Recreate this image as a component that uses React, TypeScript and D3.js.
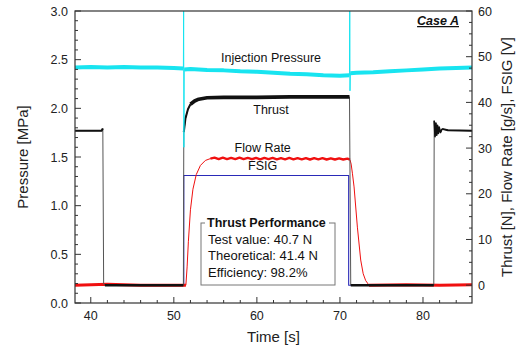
import React from "react";
import * as d3 from "d3";

type Pt = [number, number];

// time [s] vs injection pressure [MPa] (left axis)
const pressurePre: Pt[] = [[38.1, 2.42], [40, 2.425], [42, 2.42], [44, 2.425], [46, 2.42], [48, 2.42], [50, 2.415], [51.15, 2.41]];
const pressureSpike1: Pt[] = [[51.18, 3.05], [51.21, 1.6]];
const pressureBurn: Pt[] = [[51.25, 2.4], [52, 2.405], [54, 2.395], [56, 2.39], [58, 2.38], [60, 2.375], [62, 2.365], [64, 2.355], [66, 2.35], [68, 2.34], [70, 2.335], [71.15, 2.34]];
const pressureSpike2: Pt[] = [[71.18, 3.05], [71.21, 2.18]];
const pressurePost: Pt[] = [[71.25, 2.36], [72, 2.365], [74, 2.37], [76, 2.38], [78, 2.39], [80, 2.4], [82, 2.41], [84, 2.415], [85.9, 2.42]];

// thrust [N] (right axis)
const thrustPre: Pt[] = [[38.1, 33.8], [40, 33.8], [41.3, 33.8], [41.45, 34.3]];
const thrustDrop: Pt[] = [[41.55, 0.3]];
const thrustOff1: Pt[] = [[41.7, 0], [44, 0], [48, 0], [51.15, 0]];
const thrustRise: Pt[] = [[51.2, 33.5], [51.4, 36.5], [51.7, 38.5], [52.0, 39.6]];
const thrustBurn: Pt[] = [[52.0, 39.6], [52.5, 40.3], [53, 40.7], [54, 41.0], [56, 41.1], [60, 41.1], [64, 41.2], [68, 41.2], [71.15, 41.2]];
const thrustOff2: Pt[] = [[71.3, 0], [74, 0], [78, 0], [81.3, 0]];
const thrustStart2: Pt[] = [[81.35, 36], [81.45, 32.5], [81.55, 35.5], [81.65, 32.8], [81.75, 35], [81.85, 33.2], [81.95, 34.6], [82.1, 33.4], [82.3, 34.2]];
const thrustPost: Pt[] = [[82.3, 34.2], [83, 33.9], [85.9, 33.8]];

// flow rate [g/s] (right axis)
const flowPre: Pt[] = [[38.1, 0], [42, 0.2], [46, 0], [51.45, 0]];
const flowRise: Pt[] = [[51.6, 4], [51.75, 9.5], [52.0, 16.5], [52.3, 21], [52.7, 24.2], [53.2, 26.2], [53.8, 27.3]];
const flowBurn: Pt[] = [
  [54.4, 27.7], [54.9, 27.9], [55.4, 27.6], [55.9, 27.9], [56.4, 27.6], [56.9, 27.85], [57.4, 27.6], [57.9, 27.9],
  [58.4, 27.6], [58.9, 27.85], [59.4, 27.6], [59.9, 27.85], [60.4, 27.55], [60.9, 27.85], [61.4, 27.6], [61.9, 27.85],
  [62.4, 27.55], [62.9, 27.8], [63.4, 27.55], [63.9, 27.85], [64.4, 27.55], [64.9, 27.8], [65.4, 27.55], [65.9, 27.8],
  [66.4, 27.5], [66.9, 27.8], [67.4, 27.55], [67.9, 27.8], [68.4, 27.5], [68.9, 27.75], [69.4, 27.5], [69.9, 27.75],
  [70.4, 27.5], [70.9, 27.7], [71.2, 27.5],
];
const flowFall: Pt[] = [[71.35, 26.5], [71.5, 24.5], [71.7, 21.5], [72.1, 12.7], [72.5, 5.5], [72.8, 2.5], [73.1, 1]];
const flowPost: Pt[] = [[73.5, 0], [78, 0.1], [82, 0], [85.9, 0.1]];

// FSIG [V] (right axis)
const fsig: Pt[] = [[38.1, 0], [51.2, 0], [51.2, 24], [71.05, 24], [71.05, 0], [85.9, 0]];

const xTicks = [40, 50, 60, 70, 80];
const leftTicks = [0, 0.5, 1.0, 1.5, 2.0, 2.5, 3.0];
const rightTicks = [0, 10, 20, 30, 40, 50, 60];
const perfLines = ["Test value: 40.7 N", "Theoretical: 41.4 N", "Efficiency: 98.2%"];

const W = 521;
const H = 351;
const FONT = "'Liberation Sans', Arial, sans-serif";

export default function App() {
  const ref = React.useRef<SVGSVGElement>(null);

  React.useEffect(() => {
    const svg = d3.select(ref.current);
    svg.selectAll("*").remove();

    const left = 75, right = 472, top = 11, bottom = 303;
    const x = d3.scaleLinear().domain([38.1, 85.9]).range([left, right]);
    const yL = d3.scaleLinear().domain([0, 3]).range([bottom, top]);
    const yR = d3.scaleLinear().domain([-3.9, 60]).range([bottom, top]);

    svg.append("defs").append("clipPath").attr("id", "plotclip")
      .append("rect").attr("x", left).attr("y", top).attr("width", right - left).attr("height", bottom - top);

    const g = svg.append("g").attr("clip-path", "url(#plotclip)");

    const lineL = d3.line<Pt>().x((d) => x(d[0])).y((d) => yL(d[1]));
    const lineR = d3.line<Pt>().x((d) => x(d[0])).y((d) => yR(d[1]));

    function draw(line: d3.Line<Pt>, data: Pt[], color: string, w: number) {
      g.append("path").datum(data).attr("fill", "none").attr("stroke", color)
        .attr("stroke-width", w).attr("stroke-linejoin", "round").attr("d", line);
    }

    // FSIG
    draw(lineR, fsig, "#2a2ab8", 1.1);

    // flow rate
    const red = "#f01010";
    draw(lineR, [...flowPre, ...flowRise, ...flowBurn, ...flowFall, ...flowPost], red, 1);
    draw(lineR, flowPre, red, 3);
    draw(lineR, flowBurn, red, 2.4);
    draw(lineR, flowPost, red, 3);

    // thrust
    const blk = "#111";
    draw(lineR, [...thrustPre, ...thrustDrop, ...thrustOff1, ...thrustRise, ...thrustBurn.slice(1), ...thrustOff2, ...thrustStart2, ...thrustPost.slice(1)], "#555", 1);
    draw(lineR, thrustPre, blk, 2);
    draw(lineR, thrustOff1, blk, 2.4);
    draw(lineR, thrustRise, blk, 2);
    draw(lineR, thrustBurn, blk, 3.6);
    draw(lineR, thrustOff2, blk, 2.4);
    draw(lineR, thrustStart2, blk, 1.6);
    draw(lineR, thrustPost, blk, 2);

    // injection pressure
    const cyan = "#18e4f0";
    draw(lineL, [...pressurePre, ...pressureSpike1, ...pressureBurn, ...pressureSpike2, ...pressurePost], cyan, 1);
    draw(lineL, pressurePre, cyan, 4);
    draw(lineL, pressureBurn, cyan, 4);
    draw(lineL, pressurePost, cyan, 4);

    // frame
    const axisColor = "#333";
    svg.append("rect").attr("x", left).attr("y", top).attr("width", right - left).attr("height", bottom - top)
      .attr("fill", "none").attr("stroke", axisColor).attr("stroke-width", 1.2);

    const ticks = svg.append("g").attr("stroke", axisColor).attr("stroke-width", 1);
    d3.range(40, 86, 2).forEach((t) => {
      const major = t % 10 === 0;
      ticks.append("line").attr("x1", x(t)).attr("x2", x(t)).attr("y1", bottom).attr("y2", bottom - (major ? 6 : 3));
    });
    d3.range(0, 3.001, 0.1).forEach((v) => {
      const major = Math.abs(v * 2 - Math.round(v * 2)) < 1e-6;
      ticks.append("line").attr("x1", left).attr("x2", left + (major ? 6 : 3)).attr("y1", yL(v)).attr("y2", yL(v));
    });
    d3.range(-2.5, 60.001, 2.5).forEach((v) => {
      const major = Math.abs(v % 10) < 1e-6;
      ticks.append("line").attr("x1", right).attr("x2", right - (major ? 6 : 3)).attr("y1", yR(v)).attr("y2", yR(v));
    });

    const labels = svg.append("g").attr("font-family", FONT).attr("fill", "#222").attr("font-size", 12.5);
    xTicks.forEach((t) => {
      labels.append("text").attr("x", x(t)).attr("y", bottom + 17).attr("text-anchor", "middle").text(t);
    });
    leftTicks.forEach((v) => {
      labels.append("text").attr("x", left - 7).attr("y", yL(v) + 4.5).attr("text-anchor", "end").text(v.toFixed(1));
    });
    rightTicks.forEach((v) => {
      labels.append("text").attr("x", right + 6).attr("y", yR(v) + 4.5).attr("text-anchor", "start").text(v);
    });

    // axis titles
    const titles = svg.append("g").attr("font-family", FONT).attr("fill", "#222").attr("font-size", 15);
    titles.append("text").attr("x", (left + right) / 2).attr("y", 342).attr("text-anchor", "middle").text("Time [s]");
    titles.append("text").attr("transform", `translate(28,${(top + bottom) / 2}) rotate(-90)`)
      .attr("text-anchor", "middle").text("Pressure [MPa]");
    titles.append("text").attr("transform", `translate(512,${(top + bottom) / 2}) rotate(-90)`)
      .attr("text-anchor", "middle").text("Thrust [N], Flow Rate [g/s], FSIG [V]");

    // series annotations
    const ann = svg.append("g").attr("font-family", FONT).attr("fill", "#111").attr("font-size", 12.5).attr("text-anchor", "middle");
    ann.append("text").attr("x", x(61.7)).attr("y", 62).text("Injection Pressure");
    ann.append("text").attr("x", x(61.7)).attr("y", 114).text("Thrust");
    ann.append("text").attr("x", x(60.7)).attr("y", 152).text("Flow Rate");
    ann.append("text").attr("x", x(60.7)).attr("y", 170).text("FSIG");

    svg.append("text").attr("x", 459).attr("y", 25).attr("text-anchor", "end")
      .attr("font-family", FONT).attr("font-size", 12.5).attr("font-weight", "bold").attr("font-style", "italic")
      .attr("text-decoration", "underline").attr("fill", "#111").text("Case A");

    // thrust performance box
    const bx = 201, by = 223, bw = 134, bh = 62;
    svg.append("rect").attr("x", bx).attr("y", by).attr("width", bw).attr("height", bh)
      .attr("fill", "#fff").attr("stroke", "#777").attr("stroke-width", 1);
    svg.append("rect").attr("x", bx + 4).attr("y", by - 2).attr("width", 124).attr("height", 4).attr("fill", "#fff");
    svg.append("text").attr("x", bx + 6).attr("y", by + 4).attr("font-family", FONT).attr("font-size", 12.5)
      .attr("font-weight", "bold").attr("fill", "#111").text("Thrust Performance");
    perfLines.forEach((s, i) => {
      svg.append("text").attr("x", bx + 7).attr("y", by + 20.5 + i * 16.5).attr("font-family", FONT)
        .attr("font-size", 13).attr("fill", "#111").text(s);
    });
  }, []);

  return (
    <svg ref={ref} width={W} height={H} style={{ position: "absolute", left: 0, top: 0, background: "#fff" }} />
  );
}
